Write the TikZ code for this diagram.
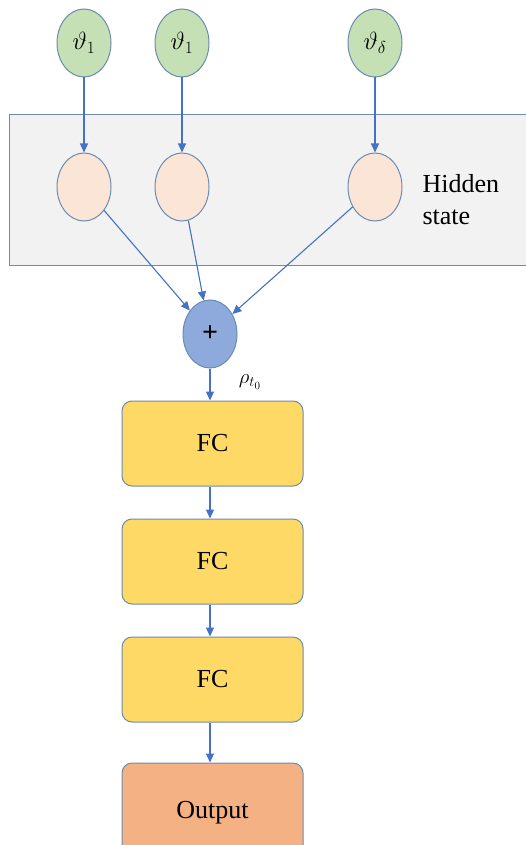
\documentclass[tikz,border=0pt]{standalone}
\usepackage{fontspec}
\setmainfont{Liberation Serif}
\usetikzlibrary{shapes.geometric,arrows.meta}
\definecolor{edgec}{HTML}{6A8CB0}
\definecolor{arrc}{HTML}{4472C4}
\definecolor{greenf}{HTML}{C5E0B4}
\definecolor{peachf}{HTML}{FBE5D6}
\definecolor{grayf}{HTML}{F2F2F2}
\definecolor{fcf}{HTML}{FFD966}
\definecolor{outf}{HTML}{F4B183}
\definecolor{plusf}{HTML}{8EA9DB}
\begin{document}
\begin{tikzpicture}[x=1pt,y=-1pt,
  oval/.style={ellipse,draw=edgec,line width=1pt,minimum width=54pt,minimum height=68pt,inner sep=0pt},
  inode/.style={oval,fill=greenf,font=\fontsize{23}{25}\selectfont},
  hnode/.style={oval,fill=peachf},
  pnode/.style={oval,fill=plusf,font=\fontsize{28}{30}\selectfont\bfseries},
  fcbox/.style={draw=edgec,line width=1pt,rounded corners=10pt,fill=fcf,minimum width=181pt,minimum height=85pt,inner sep=0pt,font=\fontsize{26}{30}\selectfont},
  arr/.style={draw=arrc,line width=1.1pt,-{Triangle[length=9pt,width=8pt]}}]
\useasboundingbox (0,0) rectangle (526,845);
\fill[white] (0,0) rectangle (526,845);
% hidden state panel
\draw[draw=edgec,fill=grayf,line width=1pt] (9,115) rectangle (545,265);
\node[font=\fontsize{26}{32}\selectfont,align=left,anchor=west] (hs) at (419,200) {Hidden\\state};
% inputs
\node[inode] (i1) at (84,43) {$\vartheta_{1}$};
\node[inode] (i2) at (182,43) {$\vartheta_{1}$};
\node[inode] (i3) at (375,43) {$\vartheta_{\delta}$};
% hidden nodes
\node[hnode] (h1) at (84,187) {};
\node[hnode] (h2) at (182,187) {};
\node[hnode] (h3) at (375,187) {};
% plus
\node[pnode] (p) at (210,334) {+};
% FC boxes
\node[fcbox] (f1) at (212.5,443.5) {FC};
\node[fcbox] (f2) at (212.5,561.5) {FC};
\node[fcbox] (f3) at (212.5,679.5) {FC};
\node[fcbox,fill=outf,minimum height=100pt] (o) at (212.5,813) {Output};
\node[font=\fontsize{22}{24}\selectfont] (rho) at (250,382) {$\rho_{t_0}$};
% arrows
\draw[arr] (i1) -- (h1);
\draw[arr] (i2) -- (h2);
\draw[arr] (i3) -- (h3);
\draw[arr] (h1) -- (p);
\draw[arr] (h2) -- (p);
\draw[arr] (h3) -- (p);
\draw[arr] (p.south) -- (p.south |- f1.north);
\draw[arr] (f1.south -| p.south) -- (p.south |- f2.north);
\draw[arr] (f2.south -| p.south) -- (p.south |- f3.north);
\draw[arr] (f3.south -| p.south) -- (p.south |- o.north);
\end{tikzpicture}
\end{document}
